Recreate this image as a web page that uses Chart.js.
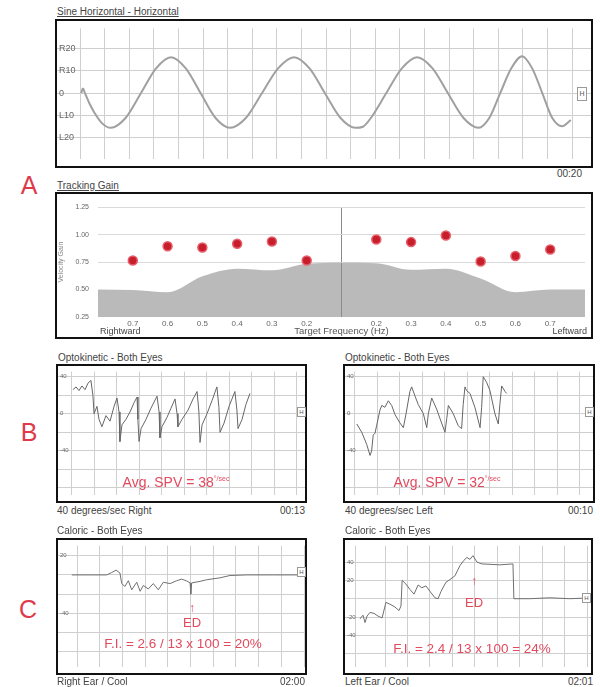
<!DOCTYPE html>
<html>
<head>
<meta charset="utf-8">
<script src="https://cdn.jsdelivr.net/npm/chart.js@4.4.0/dist/chart.umd.min.js"></script>
<style>
  body { margin: 0; width: 600px; height: 687px; position: relative; background: #fff; overflow: hidden;
         font-family: "Liberation Sans", Arial, sans-serif; }
  .box { position: absolute; border: 2px solid #111; box-sizing: border-box; }
  .box canvas { position: absolute; left: 0; top: 0; }
  .t { position: absolute; font-size: 10px; color: #444; white-space: nowrap; line-height: 11px; }
  .tr { position: absolute; font-size: 10px; color: #444; white-space: nowrap; line-height: 11px; transform: translateX(-100%); }
  .r { position: absolute; color: #e24a5e; white-space: nowrap; transform: translate(-50%, -50%); }
  .letter { position: absolute; color: #de3a4c; font-size: 25px; transform: translate(-50%, -50%); }
  .mk { position: absolute; border: 1px solid #999; background: #fff; font-size: 6px; color: #555;
        text-align: center; box-sizing: border-box; }
</style>
</head>
<body>

<div class="letter" style="left:29px;top:185px">A</div>
<div class="letter" style="left:29px;top:432px">B</div>
<div class="letter" style="left:28px;top:609px">C</div>

<!-- A: sine tracking -->
<div class="t" style="left:57px;top:6px;text-decoration:underline">Sine Horizontal - Horizontal</div>
<div class="box" style="left:55px;top:19px;width:538px;height:149px"><canvas id="cSine" width="534" height="145"></canvas></div>
<div class="mk" style="left:577px;top:87px;width:10px;height:14px;font-size:7px;line-height:12px">H</div>
<div class="tr" style="left:582px;top:168px">00:20</div>

<!-- A: tracking gain -->
<div class="t" style="left:57px;top:180px;text-decoration:underline">Tracking Gain</div>
<div class="box" style="left:55px;top:192px;width:538px;height:147px"><canvas id="cGain" width="534" height="143"></canvas></div>
<div class="t" style="left:100px;top:326px;font-size:9px">Rightward</div>
<div class="tr" style="left:587px;top:326px;font-size:9px">Leftward</div>

<!-- B: optokinetic -->
<div class="t" style="left:58px;top:352px">Optokinetic - Both Eyes</div>
<div class="box" style="left:56px;top:364px;width:251px;height:139px"><canvas id="cOkR" width="247" height="135"></canvas></div>
<div class="mk" style="left:297px;top:407px;width:9px;height:10px;line-height:8px">H</div>
<div class="t" style="left:57px;top:505px">40 degrees/sec Right</div>
<div class="tr" style="left:305px;top:505px">00:13</div>
<div class="r" style="left:176px;top:482px;font-size:14px">Avg. SPV = 38<sup style="font-size:7px">°/sec</sup></div>

<div class="t" style="left:345px;top:352px">Optokinetic - Both Eyes</div>
<div class="box" style="left:343px;top:364px;width:252px;height:139px"><canvas id="cOkL" width="248" height="135"></canvas></div>
<div class="mk" style="left:585px;top:407px;width:9px;height:10px;line-height:8px">H</div>
<div class="t" style="left:345px;top:505px">40 degrees/sec Left</div>
<div class="tr" style="left:593px;top:505px">00:10</div>
<div class="r" style="left:447px;top:482px;font-size:14px">Avg. SPV = 32<sup style="font-size:7px">°/sec</sup></div>

<!-- C: caloric -->
<div class="t" style="left:57px;top:525px">Caloric - Both Eyes</div>
<div class="box" style="left:56px;top:538px;width:251px;height:137px"><canvas id="cCalR" width="247" height="133"></canvas></div>
<div class="mk" style="left:297px;top:567px;width:9px;height:10px;line-height:8px">H</div>
<div class="t" style="left:57px;top:676px">Right Ear / Cool</div>
<div class="tr" style="left:305px;top:676px">02:00</div>
<div class="r" style="left:192px;top:608px;font-size:12px">↑</div>
<div class="r" style="left:192px;top:622px;font-size:13px">ED</div>
<div class="r" style="left:183px;top:643px;font-size:13.5px">F.I. = 2.6 / 13 x 100 = 20%</div>

<div class="t" style="left:345px;top:525px">Caloric - Both Eyes</div>
<div class="box" style="left:343px;top:538px;width:250px;height:137px"><canvas id="cCalL" width="246" height="133"></canvas></div>
<div class="mk" style="left:582px;top:593px;width:9px;height:10px;line-height:8px">H</div>
<div class="t" style="left:345px;top:676px">Left Ear / Cool</div>
<div class="tr" style="left:593px;top:676px">02:01</div>
<div class="r" style="left:474px;top:581px;font-size:12px">↑</div>
<div class="r" style="left:474px;top:602px;font-size:13px">ED</div>
<div class="r" style="left:472px;top:648px;font-size:13.5px">F.I. = 2.4 / 13 x 100 = 24%</div>

<script>
Chart.defaults.font.family = '"Liberation Sans", Arial, sans-serif';

// sine pursuit trace, seconds / degrees (R positive)
const sineTime = [0.05, 0.12, 0.2, 0.4, 0.6, 0.9, 1.25, 1.86, 2.48, 3.09, 3.7, 4.3, 4.9, 5.5, 6.1,
  6.75, 7.4, 8.05, 8.7, 9.33, 9.95, 10.58, 11.2, 11.5, 11.83, 12.45, 13.08, 13.7, 14.33, 14.95,
  15.58, 16.2, 16.64, 17.08, 17.53, 17.97, 18.38, 18.79, 19.19, 19.6, 19.95];
const sineDeg = [0, 2, 0, -5, -9, -13.5, -15.5, -11, 0, 11, 16, 11, 0, -11, -15.5,
  -11, 0, 11, 16, 11, 0, -11, -15.5, -15, -11, 0, 11, 16, 11, 0,
  -11, -15.5, -11, 0, 11, 16.4, 11, 0, -11, -14.8, -12];
const sineTicks = [20, 10, 0, -10, -20];

// tracking gain by target frequency
const freqLabels = ['', '0.7', '0.6', '0.5', '0.4', '0.3', '0.2', '', '0.2', '0.3', '0.4', '0.5', '0.6', '0.7', ''];
const gainValues = [null, 0.765, 0.895, 0.883, 0.917, 0.938, 0.765, null, 0.956, 0.932, 0.992, 0.756, 0.805, 0.865, null];
const normLower = [0.50, 0.495, 0.475, 0.62, 0.69, 0.675, 0.735, 0.745, 0.74, 0.68, 0.69, 0.60, 0.475, 0.50, 0.50];
const gainTicks = [1.25, 1.0, 0.75, 0.5, 0.25];

// optokinetic, right (s, deg/s)
const okRTime = [0.04, 0.18, 0.31, 0.44, 0.58, 0.71, 0.84, 0.93, 0.98, 1.11, 1.2, 1.33, 1.51, 1.69, 1.87,
  2.0, 2.09, 2.13, 2.22, 2.4, 2.58, 2.76, 2.89, 2.93, 2.98, 3.07, 3.29, 3.51, 3.78, 3.87, 3.91,
  4.0, 4.22, 4.4, 4.58, 4.67, 4.71, 4.89, 5.16, 5.38, 5.56, 5.64, 5.69, 5.78, 6.0, 6.22, 6.44,
  6.53, 6.58, 6.76, 6.98, 7.24, 7.33, 7.38, 7.56, 7.73, 7.91];
const okRVel = [26, 29, 25, 30, 26, 33, 36, 20, 0, 8, -6, -14, -2, -8, 8,
  17, 2, -30, -12, -6, 2, 12, 18, -6, -30, -16, -6, 6, 19, 2, -26,
  -14, -4, 6, 16, 0, -14, -6, 4, 16, 24, 2, -31, -12, 0, 14, 29,
  7, -20, -10, 8, 24, 4, -16, -6, 10, 22];

// optokinetic, left
const okLTime = [0.08, 0.3, 0.52, 0.67, 0.74, 0.81, 0.89, 0.96, 1.11, 1.19, 1.33, 1.48, 1.63, 1.78, 2.0,
  2.15, 2.27, 2.44, 2.52, 2.67, 2.81, 3.04, 3.19, 3.26, 3.41, 3.63, 3.85, 4.0, 4.08, 4.15, 4.37,
  4.59, 4.74, 4.81, 4.89, 4.96, 5.11, 5.33, 5.56, 5.63, 5.7, 5.85, 6.0, 6.22, 6.37, 6.44, 6.52,
  6.67, 6.74];
const okLVel = [-11, -20, -33, -45, -40, -23, -21, -13, 4, 9, 7, 14, 9, -1, -10,
  -15, 0, 24, 29, 19, 10, 0, -15, 0, 17, 5, -10, -20, -5, 9, 0,
  -13, -16, 10, 29, 25, 22, 7, -15, 7, 40, 34, 25, 0, -11, 10, 30,
  24, 22];
const okTicks = [40, 20, 0, -20, -40, -60, -80];

// caloric, right ear cool
const calRTime = [-0.23, 0.57, 1.31, 1.53, 1.72, 1.89, 1.97, 2.11, 2.26, 2.41, 2.63, 2.78, 2.92, 3.14,
  3.36, 3.58, 3.8, 4.1, 4.39, 4.61, 4.83, 4.98, 5.01, 5.05, 5.42, 5.71, 6.3, 6.74, 7.48, 8.65, 9.97];
const calRVel = [0, 0, 0, 2.5, 5, 2, -9, -12, -6, -15.5, -7.6, -17, -11, -14.6,
  -9, -15.5, -7.6, -9, -6, -4.4, -6.3, -8.3, -20, -8.3, -6.7, -5, -3, -0.6, 0, 0, 0];
const calRTicks = [20, 0, -20, -40, -60, -80];

// caloric, left ear cool
const calLTime = [-1.11, -0.98, -0.89, -0.8, -0.67, -0.49, -0.31, -0.13, 0.04, 0.22, 0.44, 0.62, 0.71,
  0.76, 0.93, 1.11, 1.29, 1.47, 1.64, 1.82, 2.0, 2.22, 2.36, 2.49, 2.71, 2.89, 3.11, 3.33, 3.51,
  3.64, 3.78, 3.91, 4.09, 4.31, 5.11, 5.69, 5.73, 6.44, 7.33, 8.22, 9.16];
const calLVel = [-22, -18, -26, -19, -15, -16, -19, -21, -4, -6, -9, -13, -8,
  20, 16, 10, 5, 15, 12, 14, 8, 1, 0, 8, 18, 21, 25, 36, 42,
  45, 43, 47, 40, 38, 37, 38, 0, 0, 1, 0, 1];
const calLTicks = [40, 20, 0, -20, -40, -60];

function pts(xs, ys) {
  return xs.map((x, i) => ({ x: x, y: ys[i] }));
}

function traceChart(id, xs, ys, o) {
  return new Chart(document.getElementById(id), {
    type: 'line',
    data: {
      datasets: [{
        data: pts(xs, ys),
        borderColor: o.color,
        borderWidth: o.width,
        pointRadius: 0,
        fill: false,
        cubicInterpolationMode: o.smooth ? 'monotone' : 'default'
      }]
    },
    options: {
      responsive: false,
      animation: false,
      events: [],
      plugins: { legend: { display: false }, tooltip: { enabled: false } },
      layout: { padding: 0 },
      scales: {
        x: {
          type: 'linear', min: o.xMin, max: o.xMax,
          afterBuildTicks: s => { s.ticks = o.xGrid.map(v => ({ value: v })); },
          afterFit: s => { s.height = 0; },
          ticks: { display: false, autoSkip: false },
          grid: { color: '#cfcfcf', drawTicks: false },
          border: { display: false }
        },
        y: {
          type: 'linear', min: o.yMin, max: o.yMax,
          afterBuildTicks: s => { s.ticks = o.yGrid.map(v => ({ value: v })); },
          afterFit: s => { s.width = 0; },
          ticks: {
            mirror: true, padding: 2, autoSkip: false, color: '#666',
            font: { size: o.fs }, callback: o.label
          },
          grid: { color: '#cfcfcf', drawTicks: false },
          border: { display: false }
        }
      }
    }
  });
}

const range = (a, b) => { const r = []; for (let i = a; i <= b; i++) r.push(i); return r; };

traceChart('cSine', sineTime, sineDeg, {
  color: '#a0a0a0', width: 2, smooth: true,
  xMin: -0.935, xMax: 20.77, xGrid: range(0, 20),
  yMin: -29.2, yMax: 28.8, yGrid: sineTicks, fs: 9,
  label: v => v > 0 ? 'R' + v : (v < 0 ? 'L' + (-v) : '0')
});

traceChart('cOkR', okRTime, okRVel, {
  color: '#666', width: 1, smooth: false,
  xMin: -0.622, xMax: 10.356, xGrid: range(0, 10),
  yMin: -88.1, yMax: 45.5, yGrid: okTicks, fs: 6,
  label: v => [40, 0, -40].includes(v) ? String(v) : ''
});

traceChart('cOkL', okLTime, okLVel, {
  color: '#666', width: 1, smooth: false,
  xMin: -0.444, xMax: 10.58, xGrid: range(0, 10),
  yMin: -88.1, yMax: 45.5, yGrid: okTicks, fs: 6,
  label: v => [40, 0, -40].includes(v) ? String(v) : ''
});

traceChart('cCalR', calRTime, calRVel, {
  color: '#707070', width: 1, smooth: false,
  xMin: -0.837, xMax: 10.04, xGrid: range(0, 10),
  yMin: -96.2, yMax: 30.5, yGrid: calRTicks, fs: 6,
  label: v => [20, -40].includes(v) ? String(v) : ''
});

traceChart('cCalL', calLTime, calLVel, {
  color: '#707070', width: 1, smooth: false,
  xMin: -1.78, xMax: 9.16, xGrid: [-1.3].concat(range(0, 9)),
  yMin: -75, yMax: 58, yGrid: calLTicks, fs: 6,
  label: v => [40, 20, -20, -40].includes(v) ? String(v) : ''
});

new Chart(document.getElementById('cGain'), {
  type: 'line',
  data: {
    labels: freqLabels,
    datasets: [
      {
        data: gainValues, showLine: false, pointRadius: 4.5,
        pointBackgroundColor: '#c81e2c', pointBorderColor: '#e6606c', pointBorderWidth: 1.5
      },
      {
        data: normLower, fill: 'start', backgroundColor: 'rgba(140,140,140,0.6)',
        borderWidth: 0, pointRadius: 0, cubicInterpolationMode: 'monotone'
      }
    ]
  },
  options: {
    responsive: false,
    animation: false,
    events: [],
    plugins: { legend: { display: false }, tooltip: { enabled: false } },
    layout: { padding: { top: 13, right: 1, left: 0, bottom: 0 } },
    scales: {
      x: {
        offset: false,
        afterFit: s => { s.height = 20; },
        grid: { color: ctx => ctx.index === 7 ? '#8a8a8a' : 'rgba(0,0,0,0)', drawTicks: false },
        border: { display: false },
        ticks: { autoSkip: false, maxRotation: 0, padding: 2, color: '#666', font: { size: 8 } },
        title: { display: true, text: 'Target Frequency (Hz)', color: '#555', font: { size: 9.5 }, padding: 0 }
      },
      y: {
        min: 0.25, max: 1.25,
        afterBuildTicks: s => { s.ticks = gainTicks.map(v => ({ value: v })); },
        afterFit: s => { s.width = 41; },
        grid: { color: ctx => ctx.tick && ctx.tick.value >= 0.75 ? '#dadada' : 'rgba(0,0,0,0)', drawTicks: false },
        border: { display: false },
        ticks: { padding: 9, color: '#666', font: { size: 7 }, callback: v => v.toFixed(2) },
        title: { display: true, text: 'Velocity Gain', color: '#888', font: { size: 7 }, padding: 0 }
      }
    }
  }
});
</script>
</body>
</html>
